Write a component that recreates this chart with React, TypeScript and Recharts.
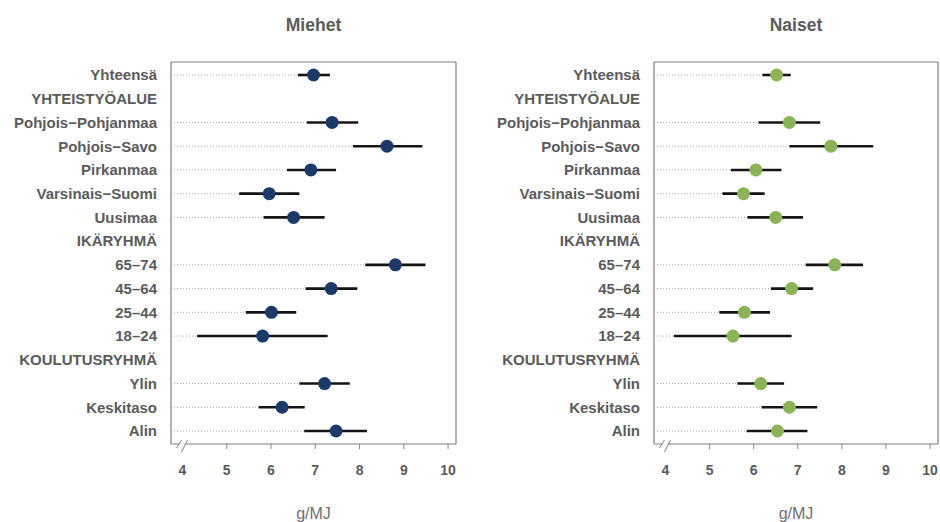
import React from 'react'
import { ComposedChart, Line, ErrorBar, XAxis, YAxis, CartesianGrid } from 'recharts'

const FONT = "'Liberation Sans', Arial, sans-serif"
const TEXT = '#5b5b5b'
const FRAME = '#7f7f7f'
const XMIN = 3.74
const XMAX = 10.18

const labels = [
  'Yhteensä',
  'YHTEISTYÖALUE',
  'Pohjois−Pohjanmaa',
  'Pohjois−Savo',
  'Pirkanmaa',
  'Varsinais−Suomi',
  'Uusimaa',
  'IKÄRYHMÄ',
  '65–74',
  '45–64',
  '25–44',
  '18–24',
  'KOULUTUSRYHMÄ',
  'Ylin',
  'Keskitaso',
  'Alin',
]

const xTicks = [4, 5, 6, 7, 8, 9, 10]

// miehet: estimate + 95% luottamusväli
const menValue = [6.96, null, 7.38, 8.62, 6.9, 5.96, 6.51, null, 8.81, 7.36, 6.01, 5.81, null, 7.21, 6.25, 7.47]
const menLow = [6.61, null, 6.81, 7.85, 6.36, 5.28, 5.83, null, 8.13, 6.78, 5.43, 4.33, null, 6.64, 5.72, 6.75]
const menHigh = [7.33, null, 7.97, 9.42, 7.47, 6.64, 7.21, null, 9.49, 7.95, 6.57, 7.28, null, 7.78, 6.76, 8.17]

// naiset
const womenValue = [6.52, null, 6.81, 7.75, 6.05, 5.77, 6.5, null, 7.84, 6.86, 5.79, 5.53, null, 6.16, 6.81, 6.54]
const womenLow = [6.2, null, 6.11, 6.81, 5.48, 5.29, 5.86, null, 7.18, 6.39, 5.22, 4.19, null, 5.63, 6.18, 5.84]
const womenHigh = [6.84, null, 7.51, 8.71, 6.63, 6.25, 7.12, null, 8.48, 7.35, 6.37, 6.86, null, 6.69, 7.44, 7.22]

function buildRows(values: (number | null)[], lows: (number | null)[], highs: (number | null)[]) {
  return labels.map((label, i) => {
    const v = values[i]
    const lo = lows[i]
    const hi = highs[i]
    if (v == null || lo == null || hi == null) {
      return { label, value: null, ci: null, lead: null }
    }
    return { label, value: v, ci: [v - lo, hi - v], lead: [v - XMIN, 0] }
  })
}

function XTick(props: any) {
  const { x, y, payload } = props
  const first = payload.value === xTicks[0]
  return (
    <g>
      {first ? (
        <g>
          <polygon points={`${x - 1},${y - 5} ${x + 5},${y - 5} ${x + 1},${y + 5} ${x - 5},${y + 5}`} fill="#fff" />
          <line x1={x - 6} y1={y + 4} x2={x - 1} y2={y - 4} stroke={FRAME} strokeWidth={1} />
          <line x1={x - 1} y1={y + 8} x2={x + 5} y2={y - 4} stroke={FRAME} strokeWidth={1} />
        </g>
      ) : (
        <line x1={x} y1={y} x2={x} y2={y + 5} stroke="#8a8a8a" strokeWidth={1} />
      )}
      <text x={x} y={y + 31} textAnchor="middle" fill={TEXT} fontSize={14} fontWeight="bold" fontFamily={FONT}>
        {payload.value}
      </text>
    </g>
  )
}

// kehys piirtoalueen reunoille
const frameRows = ({ offset }: any) => [offset.top, offset.top + offset.height]
const frameCols = ({ offset }: any) => [offset.left, offset.left + offset.width]

interface PanelProps {
  title: string
  color: string
  rows: ReturnType<typeof buildRows>
  left: number
  width: number
  marginRight: number
}

function Panel({ title, color, rows, left, width, marginRight }: PanelProps) {
  const yAxisWidth = 171
  const plotWidth = width - yAxisWidth - marginRight
  return (
    <div style={{ position: 'absolute', left, top: 0, width, height: 522 }}>
      <div
        style={{
          position: 'absolute',
          left: yAxisWidth,
          width: plotWidth,
          top: 16,
          lineHeight: '18px',
          textAlign: 'center',
          fontFamily: FONT,
          fontWeight: 'bold',
          fontSize: 17.5,
          color: TEXT,
        }}
      >
        {title}
      </div>
      <ComposedChart
        layout="vertical"
        width={width}
        height={522}
        data={rows}
        margin={{ top: 62, right: marginRight, bottom: 0, left: 0 }}
      >
        <CartesianGrid
          stroke={FRAME}
          strokeWidth={1.2}
          horizontalCoordinatesGenerator={frameRows}
          verticalCoordinatesGenerator={frameCols}
        />
        <XAxis
          type="number"
          dataKey="value"
          domain={[XMIN, XMAX]}
          ticks={xTicks}
          allowDataOverflow
          interval={0}
          height={78}
          axisLine={false}
          tickLine={false}
          tickSize={0}
          tickMargin={0}
          tick={<XTick />}
          label={{ value: 'g/MJ', position: 'insideBottom', offset: 3, fill: '#6f6f6f', fontSize: 16, fontFamily: FONT }}
        />
        <YAxis
          type="category"
          dataKey="label"
          width={yAxisWidth}
          interval={0}
          padding={{ top: 13, bottom: 13 }}
          axisLine={false}
          tickLine={false}
          tickSize={0}
          tickMargin={14}
          tick={{ fill: TEXT, fontSize: 15, fontWeight: 'bold', fontFamily: FONT }}
        />
        <Line
          dataKey="value"
          stroke="none"
          isAnimationActive={false}
          activeDot={false}
          dot={{ r: 6.5, fill: color, stroke: color, strokeWidth: 0 }}
        >
          <ErrorBar dataKey="lead" direction="x" width={0} stroke="#a8a8a8" strokeWidth={1} strokeDasharray="1 2" isAnimationActive={false} />
          <ErrorBar dataKey="ci" direction="x" width={0} stroke="#141414" strokeWidth={2.6} isAnimationActive={false} />
        </Line>
      </ComposedChart>
    </div>
  )
}

export default function App() {
  const men = buildRows(menValue, menLow, menHigh)
  const women = buildRows(womenValue, womenLow, womenHigh)
  return (
    <div style={{ position: 'absolute', left: 0, top: 0, width: 940, height: 522, overflow: 'hidden', background: '#fff' }}>
      <Panel title="Miehet" color="#1b3a68" rows={men} left={0} width={470} marginRight={14} />
      <Panel title="Naiset" color="#8bb457" rows={women} left={483} width={456} marginRight={1} />
    </div>
  )
}
